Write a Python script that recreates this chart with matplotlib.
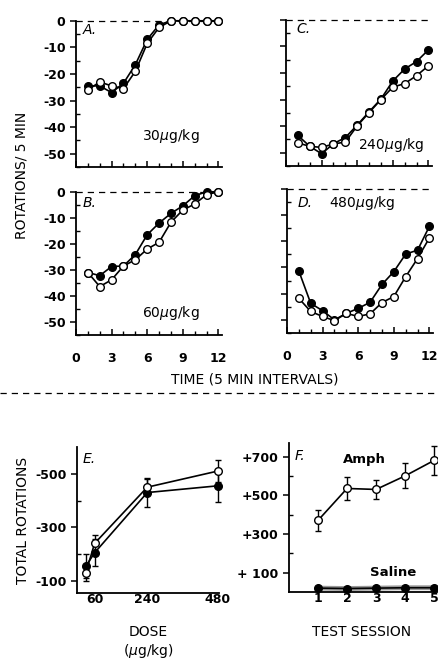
import numpy as np
import matplotlib
matplotlib.use('Agg')
import matplotlib.pyplot as plt

matplotlib.rcParams['font.family'] = 'DejaVu Sans'
matplotlib.rcParams['axes.unicode_minus'] = False

# time course panels (A-D), x = 5 min interval
t = np.arange(1, 13)
a_filled = [-24.5, -24.5, -27, -23.5, -16.5, -7, -1.5, 0, 0, 0, 0, 0]
a_open = [-26, -23, -24.5, -25.5, -19, -8.5, -2.5, 0, 0, 0, 0, 0]
b_filled = [-31, -32.2, -28.7, -28.5, -24.1, -16.5, -12, -8.3, -5.4, -1.5, 0, 0]
b_open = [-31, -36.4, -33.8, -28.5, -26.1, -22, -19.4, -11.7, -7, -4.7, -1.1, 0]
c_filled = [-43.5, -47.6, -50.4, -46.6, -44.3, -39.6, -34.6, -29.8, -23, -18.5, -15.7, -11.3]
c_open = [-46.3, -47.6, -48, -46.7, -46, -39.9, -34.9, -30, -25.3, -24, -21, -17.3]
d_filled = [-31.4, -43.7, -46.5, -50, -47.5, -45.6, -43.3, -36.5, -31.6, -24.9, -23.4, -14.3]
d_open = [-41.8, -46.8, -48.7, -50.3, -47.5, -48.7, -47.7, -43.4, -41.1, -33.5, -26.6, -18.7]

# dose response (E)
dose = [30, 60, 240, 480]
e_open = [-130, -240, -450, -510]
e_open_err = [30, 30, 30, 40]
e_filled = [-155, -205, -430, -455]
e_filled_err = [45, 50, 55, 60]

# test sessions (F)
session = [1, 2, 3, 4, 5]
amph = [370, 535, 530, 600, 680]
amph_err = [55, 60, 50, 65, 75]
saline = [20, 18, 20, 22, 22]
saline_err = [4, 4, 4, 4, 4]

W, H = 439, 661
fig = plt.figure(figsize=(W / 100, H / 100), dpi=100)


def box(l, t_, r, b):
    return [l / W, 1 - b / H, (r - l) / W, (b - t_) / H]


def style(ax, xpad=3):
    ax.spines['top'].set_visible(False)
    ax.spines['right'].set_visible(False)
    ax.spines['left'].set_linewidth(1.3)
    ax.spines['bottom'].set_linewidth(1.3)
    ax.tick_params(axis='y', which='major', direction='out', length=4, width=1.1, labelsize=9)
    ax.tick_params(axis='x', which='major', direction='in', length=4, width=1.1, labelsize=9, pad=xpad)
    ax.tick_params(which='minor', direction='in', length=3, width=1)
    for lab in ax.get_xticklabels() + ax.get_yticklabels():
        lab.set_fontweight('bold')


def timecourse(ax, filled, opn, ylabels, xlabels):
    ax.axhline(0, color='k', ls=(0, (5, 4)), lw=0.9, clip_on=False)
    ax.plot(t, filled, '-o', color='k', mfc='k', ms=5.5, lw=1.2, clip_on=False, zorder=3)
    ax.plot(t, opn, '-o', color='k', mfc='white', ms=5.5, lw=1.2, clip_on=False, zorder=4)
    ax.set_xlim(0, 12.3)
    ax.set_ylim(-55, 0.3)
    ax.spines['left'].set_bounds(-55, 0)
    ax.set_xticks([0, 3, 6, 9, 12])
    ax.set_xticks(np.arange(0, 13), minor=True)
    ax.set_yticks([0, -10, -20, -30, -40, -50])
    ax.set_yticks(np.arange(-55, 0, 5), minor=True)
    if not ylabels:
        ax.set_yticklabels([])
    if not xlabels:
        ax.set_xticklabels([])
    style(ax, xpad=12)


axA = fig.add_axes(box(76, 20, 222, 167))
timecourse(axA, a_filled, a_open, True, False)
axA.text(0.6, -5, 'A.', style='italic', fontsize=10)
axA.text(5.6, -45, '30$\\mu$g/kg', fontsize=10)

axC = fig.add_axes(box(286, 19, 432, 166))
timecourse(axC, c_filled, c_open, False, False)
axC.text(0.9, -5, 'C.', style='italic', fontsize=10)
axC.text(6.1, -48.5, '240$\\mu$g/kg', fontsize=10)

axB = fig.add_axes(box(76, 191, 222, 335))
timecourse(axB, b_filled, b_open, True, True)
axB.text(0.6, -6, 'B.', style='italic', fontsize=10)
axB.text(5.6, -48, '60$\\mu$g/kg', fontsize=10)

axD = fig.add_axes(box(287, 188, 433, 333))
timecourse(axD, d_filled, d_open, False, True)
axD.text(0.9, -7, 'D.', style='italic', fontsize=10)
axD.text(3.5, -7, '480$\\mu$g/kg', fontsize=10)

fig.text(22 / W, 1 - 175 / H, 'ROTATIONS/ 5 MIN', rotation=90, ha='center', va='center', fontsize=10)
fig.text(255 / W, 1 - 379 / H, 'TIME (5 MIN INTERVALS)', ha='center', va='center', fontsize=10)

# separator line
fig.add_artist(plt.Line2D([0, 1], [1 - 393 / H, 1 - 393 / H], color='k', ls=(0, (5, 4)), lw=0.9))

# panel E
axE = fig.add_axes(box(77, 447, 219, 593))
axE.errorbar(dose, e_filled, yerr=e_filled_err, fmt='-o', color='k', mfc='k', ms=5.5, lw=1.2,
             capsize=2.5, elinewidth=1, clip_on=False, zorder=3)
axE.errorbar(dose, e_open, yerr=e_open_err, fmt='-o', color='k', mfc='white', ms=5.5, lw=1.2,
             capsize=2.5, elinewidth=1, clip_on=False, zorder=4)
axE.set_xlim(0, 485)
axE.set_ylim(-55, -600)
axE.set_xticks([60, 240, 480])
axE.set_yticks([-100, -300, -500])
axE.set_yticks([-200, -400], minor=True)
style(axE, xpad=0)
axE.tick_params(axis='x', length=0)
axE.text(20, -540, 'E.', style='italic', fontsize=10)
axE.set_ylabel('TOTAL ROTATIONS', fontsize=10, labelpad=4)
fig.text(148 / W, 1 - 632 / H, 'DOSE', ha='center', va='center', fontsize=10)
fig.text(148 / W, 1 - 651 / H, '($\\mu$g/kg)', ha='center', va='center', fontsize=10)

# panel F
axF = fig.add_axes(box(289, 443, 437, 592))
axF.errorbar(session, amph, yerr=amph_err, fmt='-o', color='k', mfc='white', ms=5.5, lw=1.2,
             capsize=2.5, elinewidth=1, clip_on=False, zorder=4)
axF.errorbar(session, saline, yerr=saline_err, fmt='-o', color='k', mfc='k', ms=5.5, lw=1.2,
             capsize=2, elinewidth=1, clip_on=False, zorder=3)
axF.plot(session, saline, color='0.6', lw=3.5, zorder=2, clip_on=False)
axF.set_xlim(0, 5.1)
axF.set_ylim(0, 770)
axF.set_xticks(session)
axF.set_yticks([100, 300, 500, 700])
axF.set_yticklabels(['+ 100', '+300', '+500', '+700'])
axF.set_yticks([200, 400, 600], minor=True)
style(axF, xpad=0)
axF.tick_params(axis='x', length=0)
axF.text(0.2, 680, 'F.', style='italic', fontsize=10)
axF.text(2.6, 665, 'Amph', fontsize=9.5, fontweight='bold', ha='center')
axF.text(3.6, 85, 'Saline', fontsize=9.5, fontweight='bold', ha='center')
fig.text(362 / W, 1 - 632 / H, 'TEST SESSION', ha='center', va='center', fontsize=10)

fig.savefig('out.png', dpi=100)
